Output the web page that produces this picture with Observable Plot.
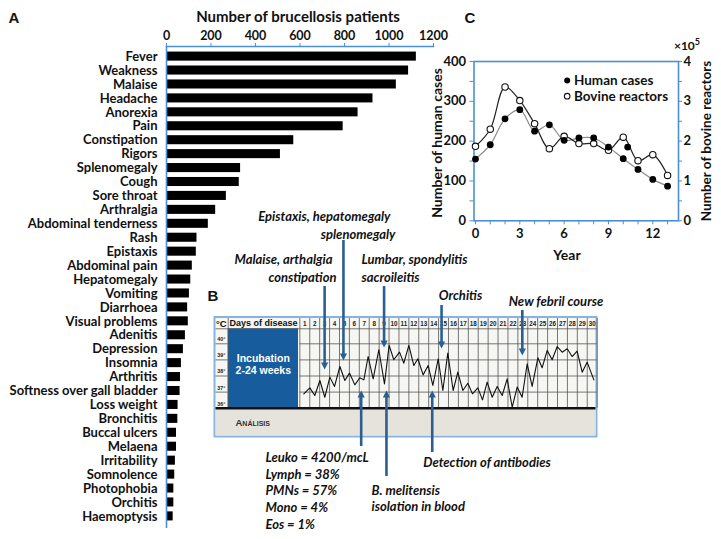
<!DOCTYPE html>
<html><head><meta charset="utf-8">
<script src="https://cdn.jsdelivr.net/npm/d3@7"></script>
<script src="https://cdn.jsdelivr.net/npm/@observablehq/plot@0.6"></script>
<style>
html,body{margin:0;padding:0;background:#fff;}
#fig{position:relative;width:721px;height:539px;overflow:hidden;background:#fff;}
.lbl{position:absolute;font-weight:bold;color:#111;white-space:nowrap;line-height:1;}
</style></head><body><div id="fig"></div>
<script>
// ---------- Panel A data ----------
const symptoms = ["Fever","Weakness","Malaise","Headache","Anorexia","Pain","Constipation","Rigors","Splenomegaly","Cough","Sore throat","Arthralgia","Abdominal tenderness","Rash","Epistaxis","Abdominal pain","Hepatomegaly","Vomiting","Diarrhoea","Visual problems","Adenitis","Depression","Insomnia","Arthritis","Softness over gall bladder","Loss weight","Bronchitis","Buccal ulcers","Melaena","Irritability","Somnolence","Photophobia","Orchitis","Haemoptysis"];
const patients = [1123,1088,1033,928,861,794,572,512,333,327,269,221,188,137,134,116,109,103,95,98,85,76,67,63,61,52,51,45,45,40,37,33,33,30];
const patientTicks = [0,200,400,600,800,1000,1200];

// ---------- Panel C data ----------
const years = [0,1,2,3,4,5,6,7,8,9,10,11,12,13];
const humanCases = [155,191,256,279,225,241,202,208,208,185,156,129,104,87];
const bovineReactors = [1.87,2.30,3.36,3.02,2.44,1.81,2.12,1.94,1.94,1.77,2.10,1.51,1.66,1.14]; // x10^5
const strayHumanYear = [10.3];
const strayHumanValue = [185];
const yearTicks = [0,1,2,3,4,5,6,7,8,9,10,11,12,13];
const yearLabels = [0,3,6,9,12];
const humanTicks = [0,50,100,150,200,250,300,350,400];
const humanLabels = [0,100,200,300,400];
const bovineLabels = [0,1,2,3,4];

// ---------- Panel B data ----------
const feverDay = [0.90,1.51,2.01,2.52,3.02,3.53,4.00,4.54,5.04,5.51,6.05,6.55,6.96,7.39,7.90,8.47,9.04,9.51,9.98,10.56,10.99,11.50,12.00,12.41,12.94,13.45,13.92,14.46,14.93,15.43,15.97,16.44,16.95,17.45,17.92,18.46,18.93,19.40,19.91,20.41,20.92,21.42,21.93,22.43,22.93,23.44,23.94,24.52,24.95,25.46,25.96,26.47,26.97,27.48,27.98,28.48,28.99,29.49,30.17];
const feverTemp = [36.89,37.26,36.79,37.72,36.68,37.93,37.35,38.59,37.72,38.18,37.45,37.89,37.76,39.21,37.82,39.63,37.51,39.90,39.01,39.48,38.80,39.90,38.65,39.07,38.07,38.65,37.41,39.07,37.10,39.42,37.10,38.24,37.10,37.55,36.89,37.26,36.52,37.62,36.68,37.35,36.79,37.82,36.06,37.31,36.68,38.76,37.35,39.13,38.51,39.59,39.01,39.83,39.48,39.69,39.21,39.54,38.24,38.86,37.76];
const dayLabels = [1,2,3,4,5,6,7,8,9,10,11,12,13,14,15,16,17,18,19,20,21,22,23,24,25,26,27,28,29,30];
const dayBounds = [0.5,1.5,2.5,3.5,4.5,5.5,6.5,7.5,8.5,9.5,10.5,11.5,12.5,13.5,14.5,15.5,16.5,17.5,18.5,19.5,20.5,21.5,22.5,23.5,24.5,25.5,26.5,27.5,28.5,29.5,30.5];
const tempTicks = [36,37,38,39,40];
const tempLabels = ["36°","37°","38°","39°","40°"];
const eventDaysDown = [3.0, 4.9, 9.0, 14.8, 22.95];   // symptom onset arrows
const eventDaysUp = [6.69, 9.24, 13.86];             // lab finding arrows

// ---------- layout ----------
const fig = document.getElementById("fig");
const axisBlue = "#4b8fd5";
const arrowBlue = "#2b5f92";
const baseStyle = {background: "transparent", overflow: "visible", fontFamily: "Lato, sans-serif", fontWeight: "bold", color: "#111"};
function place(el, left, top) {
  el.style.position = "absolute"; el.style.left = left + "px"; el.style.top = top + "px";
  fig.appendChild(el);
}
function label(html, x, y, size, opts = {}) {
  const d = document.createElement("div");
  d.className = "lbl";
  d.innerHTML = html;
  d.style.left = x + "px"; d.style.top = y + "px";
  d.style.fontSize = size + "px";
  d.style.fontFamily = opts.family || "Lato, sans-serif";
  d.style.transform = "translate(-50%,-50%)" + (opts.rotate ? ` rotate(${opts.rotate}deg)` : "");
  fig.appendChild(d);
}

// ---------- Panel A ----------
const aData = symptoms.map((s, i) => ({s, v: patients[i]}));
const A = Plot.plot({
  width: 450, height: 535,
  marginLeft: 166, marginRight: 17, marginTop: 46, marginBottom: 7,
  style: {...baseStyle, fontSize: "13px"},
  x: {domain: [0, 1200], axis: null},
  y: {domain: symptoms, range: [46, 526], paddingInner: 0.35, paddingOuter: 0.4, axis: null},
  marks: [
    Plot.barX(aData, {x: "v", y: "s", fill: "#000"}),
    Plot.ruleX([0], {stroke: axisBlue, strokeWidth: 1.6}),
    Plot.frame({anchor: "top", stroke: axisBlue, strokeWidth: 1.6}),
    Plot.axisX(patientTicks, {anchor: "top", tickSize: 4, tickPadding: 3, stroke: axisBlue, fill: "#111", fontSize: 12.5,
      tickFormat: d => String(d), label: null}),
    Plot.axisY({tickSize: 0, tickPadding: 9, fill: "#111", fontSize: 13, label: null})
  ]
});
place(A, 0, 0);

// ---------- Panel C ----------
const human = years.map((y, i) => ({year: y, v: humanCases[i]}));
const bovine = years.map((y, i) => ({year: y, v: bovineReactors[i]}));
const stray = strayHumanYear.map((y, i) => ({year: y, v: strayHumanValue[i]}));
const cx = px => (px - 475) / 14.775;
const cy = py => (220.3 - py) * 400 / 159.3;
const C = Plot.plot({
  width: 291, height: 270,
  marginLeft: 43.5, marginRight: 43, marginTop: 61, marginBottom: 49.7,
  style: {...baseStyle, fontSize: "13px"},
  x: {domain: [-0.1, 13.74], axis: null},
  y: {domain: [0, 400], axis: null},
  marks: [
    Plot.frame({stroke: axisBlue, strokeWidth: 1.6}),
    Plot.axisX(yearTicks, {tickSize: 4, tickPadding: 4, stroke: axisBlue, fill: "#111", fontSize: 13,
      tickFormat: d => yearLabels.includes(d) ? String(d) : "", label: null}),
    Plot.axisY(humanTicks, {anchor: "left", tickSize: 4, tickPadding: 4, stroke: axisBlue, fill: "#111", fontSize: 13,
      tickFormat: d => humanLabels.includes(d) ? String(d) : "", label: null}),
    Plot.axisY(humanTicks, {anchor: "right", tickSize: 3, tickPadding: 2, stroke: axisBlue, fill: "#111", fontSize: 13,
      tickFormat: d => bovineLabels.includes(d / 100) ? String(d / 100) : "", label: null}),
    Plot.line(human, {x: "year", y: "v", curve: "catmull-rom", stroke: "#8c8c8c", strokeWidth: 1.2}),
    Plot.line(bovine, {x: "year", y: d => d.v * 100, curve: "catmull-rom", stroke: "#222", strokeWidth: 1.2}),
    Plot.dot(bovine, {x: "year", y: d => d.v * 100, r: 3.2, fill: "white", stroke: "#111", strokeWidth: 1.1}),
    Plot.dot(human, {x: "year", y: "v", r: 3.4, fill: "#000"}),
    Plot.dot(stray, {x: "year", y: "v", r: 3.4, fill: "#000"}),
    // legend
    Plot.dot([0], {x: () => cx(566.7), y: () => cy(80), r: 3.0, fill: "#000"}),
    Plot.dot([0], {x: () => cx(566.7), y: () => cy(95.7), r: 2.8, fill: "white", stroke: "#111", strokeWidth: 1.1}),
    Plot.text(["Human cases", "Bovine reactors"], {x: () => cx(573.5), y: (d, i) => cy(i === 0 ? 80 : 95.7), text: d => d,
      textAnchor: "start", fontSize: 13.5, fill: "#111"})
  ]
});
place(C, 430, 0);

// ---------- Panel B ----------
const dx = px => 1 + (px - 304.3) / 9.91;   // pixel -> day
const ty = py => 40 - (py - 343.3) / 16.1;   // pixel -> temperature
const fever = feverDay.map((d, i) => ({day: d, t: feverTemp[i]}));
const downArrows = [
  {day: eventDaysDown[0], from: 286, tip: 369},
  {day: eventDaysDown[1], from: 240, tip: 360},
  {day: eventDaysDown[2], from: 286, tip: 347},
  {day: eventDaysDown[3], from: 305, tip: 348},
  {day: eventDaysDown[4], from: 310, tip: 355}
];
const upArrows = [
  {day: eventDaysUp[0], from: 446, tip: 390},
  {day: eventDaysUp[1], from: 476, tip: 390},
  {day: eventDaysUp[2], from: 452, tip: 390}
];
const notes = [
  {t: "Epistaxis, hepatomegaly", x: 390, y: 216, a: "end"},
  {t: "splenomegaly", x: 395, y: 234, a: "end"},
  {t: "Malaise, arthalgia", x: 332, y: 259, a: "end"},
  {t: "constipation", x: 336, y: 277, a: "end"},
  {t: "Lumbar, spondylitis", x: 361, y: 259, a: "start"},
  {t: "sacroileitis", x: 361, y: 277, a: "start"},
  {t: "Orchitis", x: 460, y: 295, a: "middle"},
  {t: "New febril course", x: 555.5, y: 301.7, a: "middle"},
  {t: "Leuko = 4200/mcL", x: 265, y: 457, a: "start"},
  {t: "Lymph = 38%", x: 265, y: 474, a: "start"},
  {t: "PMNs = 57%", x: 265, y: 490.7, a: "start"},
  {t: "Mono = 4%", x: 265, y: 507.3, a: "start"},
  {t: "Eos = 1%", x: 265, y: 524, a: "start"},
  {t: "B. melitensis", x: 371, y: 490, a: "start"},
  {t: "isolation in blood", x: 371, y: 506.7, a: "start"},
  {t: "Detection of antibodies", x: 422.7, y: 462.7, a: "start"}
];
const noteMarks = ["start", "middle", "end"].map(a =>
  Plot.text(notes.filter(n => n.a === a), {x: d => dx(d.x), y: d => ty(d.y), text: "t", textAnchor: a, fontSize: 13, fontStyle: "italic", fill: "#111"}));
const triDown = {draw(c, s) { const r = Math.sqrt(s / Math.PI); c.moveTo(0, r * 1.3); c.lineTo(-r * 1.2, -r); c.lineTo(r * 1.2, -r); c.closePath(); }};
const triUp = {draw(c, s) { const r = Math.sqrt(s / Math.PI); c.moveTo(0, -r * 1.3); c.lineTo(-r * 1.2, r); c.lineTo(r * 1.2, r); c.closePath(); }};
const arial = "Liberation Sans, Arial, sans-serif";
const B = Plot.plot({
  width: 410, height: 339,
  marginLeft: 0, marginRight: 0, marginTop: 0, marginBottom: 0,
  style: {...baseStyle, fontSize: "13px"},
  x: {domain: [dx(200), dx(610)], axis: null},
  y: {domain: [ty(539), ty(200)], axis: null},
  marks: [
    // chart sheet
    Plot.rect([0], {x1: () => dx(214.5), x2: () => dx(596.5), y1: () => ty(436.5), y2: () => ty(317), fill: "#f6f6f2", stroke: "#86b4e2", strokeWidth: 2}),
    Plot.rect([0], {x1: () => dx(215.5), x2: () => dx(595.5), y1: () => ty(435.5), y2: () => 36, fill: "#e5e3db"}),
    Plot.rect([0], {x1: () => dx(227.7), x2: () => dx(298), y1: () => 36, y2: () => ty(328.3), fill: "#175c9c"}),
    Plot.ruleX(dayBounds, {x: d => d, y1: () => ty(318), y2: () => 36, stroke: "#555", strokeWidth: 0.8}),
    Plot.ruleX([0], {x: () => dx(227.7), y1: () => ty(318), y2: () => 36, stroke: "#555", strokeWidth: 0.8}),
    Plot.ruleY(tempTicks.slice(1), {y: d => d, x1: 0.5, x2: 30.5, stroke: "#555", strokeWidth: 0.8}),
    Plot.ruleY(tempTicks.slice(1), {y: d => d, x1: () => dx(215.5), x2: () => dx(227.7), stroke: "#555", strokeWidth: 0.8}),
    Plot.ruleY([0], {y: () => ty(328.3), x1: () => dx(215.5), x2: 30.5, stroke: "#555", strokeWidth: 0.8}),
    Plot.ruleY([36], {y: d => d, x1: () => dx(215.5), x2: () => dx(595.5), stroke: "#111", strokeWidth: 2.4}),
    Plot.text(dayLabels, {x: d => d, y: () => ty(323.3), text: d => String(d), fontSize: 6.3, fontFamily: arial, fill: "#222"}),
    Plot.text(tempTicks, {x: () => dx(220.8), y: d => ty(343.3 + (40 - d) * 16.1 - 4.3), text: (d, i) => tempLabels[i], fontSize: 5.3, fontFamily: arial, fill: "#222"}),
    Plot.text(["°C"], {x: () => dx(220.8), y: () => ty(323), fontSize: 9.5, fontFamily: arial, fill: "#111"}),
    Plot.text(["Days of disease"], {x: () => dx(263), y: () => ty(323), fontSize: 9, fontFamily: arial, fill: "#111"}),
    Plot.text(["Incubation", "2-24 weeks"], {x: () => dx(262.8), y: (d, i) => ty(i === 0 ? 358.3 : 370.5), fontSize: 10.5, fontFamily: arial, fill: "white"}),
    Plot.text(["Análisis"], {x: () => dx(235), y: () => ty(422.7), textAnchor: "start", fontSize: 9.5, fontVariant: "small-caps", fontFamily: arial, fill: "#333"}),
    // temperature curve
    Plot.line(fever, {x: "day", y: "t", stroke: "#111", strokeWidth: 1.1}),
    // arrows
    Plot.ruleX(downArrows, {x: "day", y1: d => ty(d.from), y2: d => ty(d.tip - 4), stroke: arrowBlue, strokeWidth: 2.6}),
    Plot.dot(downArrows, {x: "day", y: d => ty(d.tip - 3.9), r: 3, symbol: triDown, fill: arrowBlue}),
    Plot.ruleX(upArrows, {x: "day", y1: d => ty(d.from), y2: d => ty(d.tip + 4), stroke: arrowBlue, strokeWidth: 2.6}),
    Plot.dot(upArrows, {x: "day", y: d => ty(d.tip + 3.9), r: 3, symbol: triUp, fill: arrowBlue}),
    // annotation texts
    ...noteMarks
  ]
});
place(B, 200, 200);

// ---------- titles / panel letters ----------
label("A", 14, 17, 15, {family: "Liberation Sans, Arial, sans-serif"});
label("B", 213, 295, 15, {family: "Liberation Sans, Arial, sans-serif"});
label("C", 470, 17, 15, {family: "Liberation Sans, Arial, sans-serif"});
label("Number of brucellosis patients", 298, 16, 15);
label("Number of human cases", 437, 143, 14, {rotate: -90});
label("Number of bovine reactors", 707, 141, 13.5, {rotate: -90});
label("Year", 567, 255, 14);
label("×10<sup style='font-size:9px;vertical-align:5px'>5</sup>", 687, 44, 12);
</script></body></html>
